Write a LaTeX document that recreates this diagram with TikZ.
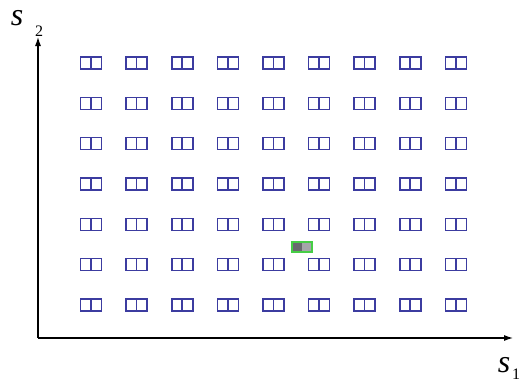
\documentclass[tikz,border=0pt]{standalone}
\usepackage{fontspec}
\setmainfont{Liberation Serif}
\usetikzlibrary{arrows.meta}
\definecolor{cellblue}{RGB}{60,60,160}
\definecolor{cellgreen}{RGB}{70,205,70}
\definecolor{darkcell}{RGB}{105,105,110}
\definecolor{lightcell}{RGB}{165,165,170}
\tikzset{
  cellbox/.style={draw=cellblue, line width=1.6pt},
  axis/.style={line width=1.1pt, -{Latex[length=9pt,width=6pt]}},
  varname/.style={font=\itshape\fontsize{32}{32}\selectfont, inner sep=0pt},
  varidx/.style={font=\fontsize{16}{16}\selectfont, inner sep=0pt}
}
\begin{document}
\begin{tikzpicture}[x=1pt, y=-1pt]
    \useasboundingbox (0,0) rectangle (522,383);
    \coordinate (origin) at (38,338);
    \coordinate (s2end) at (38,37);
    \coordinate (s1end) at (513,338);
    \draw[axis] (origin) -- (s2end);
    \draw[axis] (origin) -- (s1end);
    % grid of cells
    \foreach \col in {0,...,8}
      \foreach \row in {0,...,6} {
        \pgfmathsetmacro{\cx}{91+45.6*\col}
        \pgfmathsetmacro{\cy}{63+40.33*\row}
        \draw[cellbox] (\cx-10.5,\cy-6) rectangle (\cx+10.5,\cy+6);
        \draw[cellbox] (\cx,\cy-6) -- (\cx,\cy+6);
      }
    % highlighted cell
    \fill[darkcell] (292,242) rectangle (302,252);
    \fill[lightcell] (302,242) rectangle (312,252);
    \draw[cellgreen, line width=1.6pt] (292,242) rectangle (312,252);
    \node[varname] (s2) at (17,18) {s};
    \node[varidx] (s2idx) at (39,31) {2};
    \node[varname] (s1) at (504,365) {s};
    \node[varidx] (s1idx) at (516,374) {1};
\end{tikzpicture}
\end{document}
